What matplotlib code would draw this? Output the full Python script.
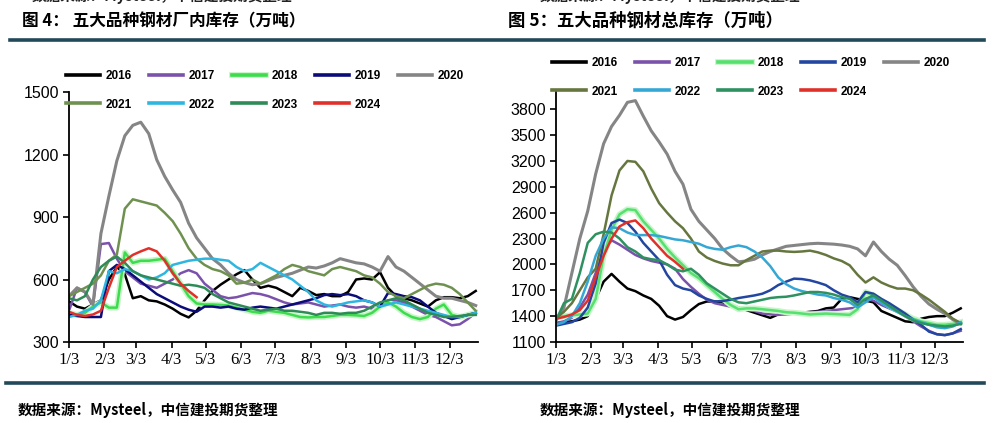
import numpy as np
import pandas as pd
import matplotlib
matplotlib.use("Agg")
import matplotlib.pyplot as plt
from matplotlib.lines import Line2D
from matplotlib import patheffects as pe

plt.rcParams['font.family'] = ['Liberation Sans', 'Noto Sans CJK SC']
plt.rcParams['axes.unicode_minus'] = False

# ================= 数据 =================
YEARS = ['2016', '2017', '2018', '2019', '2020', '2021', '2022', '2023', '2024']
WEEKS = pd.date_range('2023-01-03', periods=52, freq='7D')   # 周度, 只用月/日
MONTH_TICKS = pd.date_range('2023-01-03', periods=12, freq=pd.DateOffset(months=1))
MONTH_LABELS = ['1/3', '2/3', '3/3', '4/3', '5/3', '6/3', '7/3', '8/3', '9/3', '10/3', '11/3', '12/3']

# 图4 厂内库存 (万吨)
PLANT_2016 = [495, 470, 460, 480, 500, 600, 660, 625, 510, 520, 500, 495, 480, 460, 435, 418, 450, 500,
              545, 575, 600, 625, 645, 600, 560, 570, 560, 540, 520, 560, 545, 525, 530, 520, 520, 540,
              600, 605, 600, 635, 560, 520, 510, 500, 485, 470, 500, 515, 515, 510, 520, 545]
PLANT_2017 = [450, 560, 540, 470, 770, 775, 700, 640, 610, 580, 570, 560, 580, 600, 630, 645, 630, 580,
              550, 520, 510, 515, 525, 535, 530, 520, 505, 490, 480, 485, 490, 480, 470, 475, 480, 470,
              465, 470, 460, 470, 500, 500, 490, 470, 450, 430, 420, 400, 380, 385, 410, 440]
PLANT_2018 = [440, 430, 440, 470, 490, 465, 465, 730, 680, 690, 690, 695, 700, 640, 580, 520, 485, 480,
              480, 478, 475, 465, 455, 445, 440, 450, 445, 440, 430, 420, 418, 420, 420, 425, 430, 430,
              428, 425, 440, 470, 490, 470, 440, 420, 410, 420, 460, 480, 430, 420, 430, 440]
PLANT_2019 = [430, 425, 420, 420, 420, 640, 670, 650, 620, 590, 560, 530, 510, 490, 470, 455, 445, 470,
              470, 465, 470, 460, 455, 465, 470, 465, 460, 470, 480, 490, 500, 510, 525, 530, 525, 530,
              520, 500, 490, 470, 535, 530, 520, 515, 500, 470, 440, 425, 410, 420, 430, 440]
PLANT_2020 = [520, 560, 540, 480, 820, 1000, 1170, 1290, 1340, 1355, 1300, 1175, 1095, 1030, 970, 870,
              800, 750, 700, 670, 630, 600, 585, 575, 580, 595, 610, 620, 630, 645, 660, 655, 665, 680,
              700, 690, 680, 675, 660, 640, 710, 660, 640, 610, 580, 550, 520, 510, 510, 500, 490, 475]
PLANT_2021 = [520, 540, 560, 580, 620, 690, 720, 940, 985, 975, 965, 955, 920, 880, 820, 750, 700, 670,
              650, 640, 620, 580, 585, 600, 580, 600, 620, 650, 670, 660, 640, 630, 620, 650, 660, 650,
              640, 620, 610, 580, 540, 520, 510, 530, 550, 570, 580, 575, 560, 530, 490, 450]
PLANT_2022 = [420, 430, 450, 460, 500, 640, 630, 650, 640, 620, 600, 610, 630, 670, 680, 690, 695, 700,
              700, 695, 690, 660, 640, 650, 680, 660, 640, 620, 600, 570, 540, 500, 480, 470, 480, 490,
              495, 500, 490, 470, 480, 490, 480, 470, 460, 450, 440, 430, 420, 420, 430, 440]
PLANT_2023 = [510, 500, 520, 600, 660, 690, 710, 680, 640, 620, 610, 600, 590, 580, 570, 575, 570, 560,
              530, 510, 490, 480, 470, 460, 450, 455, 460, 450, 450, 445, 440, 430, 440, 440, 435, 440,
              440, 450, 470, 490, 500, 510, 500, 480, 460, 440, 430, 420, 420, 425, 430, 430]
PLANT_2024 = [445, 430, 425, 432, 450, 560, 660, 690, 718, 735, 750, 735, 690, 630, 580, 545, 515]

# 图5 总库存 (万吨)
TOTAL_2016 = [1320, 1330, 1340, 1360, 1400, 1600, 1800, 1890, 1800, 1720, 1690, 1640, 1600, 1520, 1400,
              1360, 1390, 1470, 1540, 1570, 1570, 1560, 1530, 1500, 1470, 1440, 1410, 1380, 1420, 1440,
              1440, 1440, 1450, 1460, 1490, 1500, 1600, 1620, 1600, 1580, 1560, 1460, 1420, 1380, 1340,
              1330, 1370, 1390, 1400, 1400, 1440, 1490]
TOTAL_2017 = [1320, 1340, 1380, 1500, 1650, 1900, 2150, 2280, 2230, 2170, 2110, 2070, 2040, 2020, 2000,
              1950, 1830, 1740, 1660, 1590, 1550, 1530, 1510, 1490, 1480, 1460, 1430, 1420, 1415, 1420,
              1430, 1440, 1445, 1450, 1460, 1470, 1480, 1490, 1500, 1600, 1580, 1530, 1490, 1450, 1400,
              1340, 1280, 1230, 1190, 1180, 1200, 1230]
TOTAL_2018 = [1390, 1400, 1410, 1420, 1430, 1600, 2100, 2400, 2580, 2640, 2630, 2500, 2400, 2300, 2180,
              2080, 1990, 1900, 1840, 1760, 1680, 1600, 1530, 1480, 1490, 1490, 1480, 1470, 1460, 1445,
              1440, 1430, 1420, 1425, 1430, 1425, 1420, 1415, 1480, 1680, 1640, 1580, 1520, 1470, 1420,
              1370, 1340, 1320, 1300, 1300, 1310, 1330]
TOTAL_2019 = [1290, 1310, 1330, 1380, 1500, 1780, 2250, 2480, 2520, 2480, 2380, 2250, 2150, 2050, 1880,
              1760, 1720, 1700, 1640, 1600, 1570, 1575, 1590, 1610, 1625, 1640, 1660, 1700, 1760, 1800,
              1835, 1830, 1815, 1790, 1760, 1700, 1650, 1620, 1560, 1680, 1660, 1600, 1550, 1490, 1430,
              1360, 1300, 1220, 1190, 1180, 1200, 1250]
TOTAL_2020 = [1350, 1500, 1900, 2300, 2620, 3050, 3400, 3600, 3730, 3880, 3900, 3720, 3550, 3420, 3280,
              3080, 2930, 2640, 2500, 2400, 2300, 2180, 2100, 2030, 2040, 2060, 2110, 2150, 2180, 2210,
              2220, 2230, 2240, 2245, 2240, 2235, 2225, 2210, 2180, 2100, 2260, 2150, 2060, 1990, 1870,
              1740, 1630, 1540, 1480, 1430, 1360, 1310]
TOTAL_2021 = [1380, 1450, 1550, 1700, 1850, 1950, 2350, 2800, 3090, 3200, 3190, 3080, 2880, 2710, 2600,
              2500, 2420, 2300, 2150, 2080, 2040, 2010, 1990, 1990, 2050, 2100, 2150, 2160, 2160, 2150,
              2145, 2150, 2160, 2140, 2110, 2070, 2040, 1990, 1880, 1790, 1850, 1790, 1750, 1720, 1720,
              1700, 1650, 1590, 1520, 1450, 1370, 1320]
TOTAL_2022 = [1300, 1330, 1400, 1550, 1800, 2100, 2300, 2430, 2420, 2370, 2340, 2340, 2340, 2330, 2310,
              2290, 2280, 2260, 2240, 2200, 2180, 2170, 2200, 2220, 2200, 2150, 2080, 1980, 1850, 1770,
              1720, 1690, 1670, 1650, 1640, 1610, 1590, 1560, 1500, 1560, 1620, 1550, 1500, 1450, 1400,
              1360, 1330, 1300, 1270, 1260, 1280, 1330]
TOTAL_2023 = [1350, 1550, 1600, 1900, 2250, 2350, 2380, 2370, 2300, 2200, 2150, 2080, 2060, 2050, 2000,
              1940, 1920, 1950, 1880, 1780, 1720, 1660, 1600, 1560, 1550, 1570, 1590, 1610, 1620, 1625,
              1640, 1660, 1680, 1680, 1670, 1650, 1620, 1600, 1530, 1600, 1640, 1580, 1520, 1460, 1400,
              1350, 1320, 1300, 1290, 1280, 1290, 1310]
TOTAL_2024 = [1370, 1390, 1420, 1470, 1580, 1850, 2100, 2300, 2440, 2490, 2510, 2420, 2300, 2200, 2100,
              2030, 1950]

PLANT = [PLANT_2016, PLANT_2017, PLANT_2018, PLANT_2019, PLANT_2020, PLANT_2021, PLANT_2022, PLANT_2023, PLANT_2024]
TOTAL = [TOTAL_2016, TOTAL_2017, TOTAL_2018, TOTAL_2019, TOTAL_2020, TOTAL_2021, TOTAL_2022, TOTAL_2023, TOTAL_2024]

# ================= 样式 =================
COLORS_L = ['#000000', '#7b52ab', '#3ddc4e', '#0b0b7a', '#858585', '#6f9150', '#2fb6e0', '#2e8b57', '#e0302a']
COLORS_R = ['#000000', '#7b52ab', '#55e070', '#2346a0', '#858585', '#66763f', '#35a7d4', '#2d9160', '#e0302a']
LEG_ORDER = [0, 5, 1, 6, 2, 7, 3, 8, 4]   # 让图例按行排列

W, H = 993, 423
fig = plt.figure(figsize=(W / 100, H / 100), dpi=100)


def px(x, y):
    return x / W, 1 - y / H


def draw_panel(rect, series, colors, ylim, yticks, leg_xy):
    ax = fig.add_axes(rect)
    lines = []
    for i, (yr, vals) in enumerate(zip(YEARS, series)):
        lw = 2.2 if yr == '2020' else 1.8
        effects = None
        if yr == '2018':
            effects = [pe.Stroke(linewidth=4.2, foreground='#c8f5c8'), pe.Normal()]
        ln, = ax.plot(WEEKS[:len(vals)], vals, color=colors[i], lw=lw, label=yr,
                      solid_joinstyle='round', path_effects=effects)
        lines.append(ln)

    ax.set_xlim(WEEKS[0], pd.Timestamp('2023-12-28'))
    ax.set_ylim(*ylim)
    ax.set_yticks(yticks)
    ax.set_xticks(MONTH_TICKS)
    ax.set_xticklabels(MONTH_LABELS, family='Liberation Serif', fontsize=12)
    ax.tick_params(axis='y', labelsize=11.5, length=4, width=1.2, pad=3)
    ax.tick_params(axis='x', length=4, width=1.2, pad=3)
    for s in ['top', 'right']:
        ax.spines[s].set_visible(False)
    for s in ['left', 'bottom']:
        ax.spines[s].set_linewidth(1.3)

    hs = [lines[i] for i in LEG_ORDER]
    labs = [YEARS[i] for i in LEG_ORDER]
    leg = fig.legend(hs, labs, ncol=5, loc='upper left', bbox_to_anchor=px(*leg_xy),
                     frameon=False, borderpad=0, borderaxespad=0, handlelength=2.9,
                     handletextpad=0.45, columnspacing=1.45, labelspacing=1.4,
                     prop={'family': 'Liberation Sans', 'weight': 'bold', 'size': 8.5})
    for h in leg.legend_handles:
        h.set_linewidth(2.6)
    return ax


draw_panel([69 / W, 81 / H, 409 / W, 250 / H], PLANT, COLORS_L, (300, 1500),
           [300, 600, 900, 1200, 1500], (66, 70))
draw_panel([556 / W, 81 / H, 407 / W, 250 / H], TOTAL, COLORS_R, (1100, 4000),
           list(range(1100, 3801, 300)), (552, 57))

# ================= 标题、分隔线、来源 =================
cjk = ['Noto Sans CJK SC', 'DejaVu Sans']
src = '数据来源：Mysteel，中信建投期货整理'
# 上一张图来源行被裁去的下沿
fig.text(*px(32, -4), src, family=cjk, fontsize=10.5, fontweight='bold', va='center', color='#222222')
fig.text(*px(540, -4), src, family=cjk, fontsize=10.5, fontweight='bold', va='center', color='#222222')

fig.text(*px(22, 21), '图 4： 五大品种钢材厂内库存（万吨）', family=cjk, fontsize=12,
         fontweight='bold', va='center')
fig.text(*px(508, 21), '图 5：五大品种钢材总库存（万吨）', family=cjk, fontsize=12.5,
         fontweight='bold', va='center')

fig.add_artist(Line2D([10 / W, 984 / W], [1 - 40 / H] * 2, color='#21495a', lw=2.6))
fig.add_artist(Line2D([6 / W, 984 / W], [1 - 383 / H] * 2, color='#21495a', lw=2.6))

fig.text(*px(18, 410), src, family=cjk, fontsize=10.5, fontweight='bold', style='italic', va='center')
fig.text(*px(540, 410), src, family=cjk, fontsize=10.5, fontweight='bold', style='italic', va='center')

fig.savefig('out.png', dpi=100)
